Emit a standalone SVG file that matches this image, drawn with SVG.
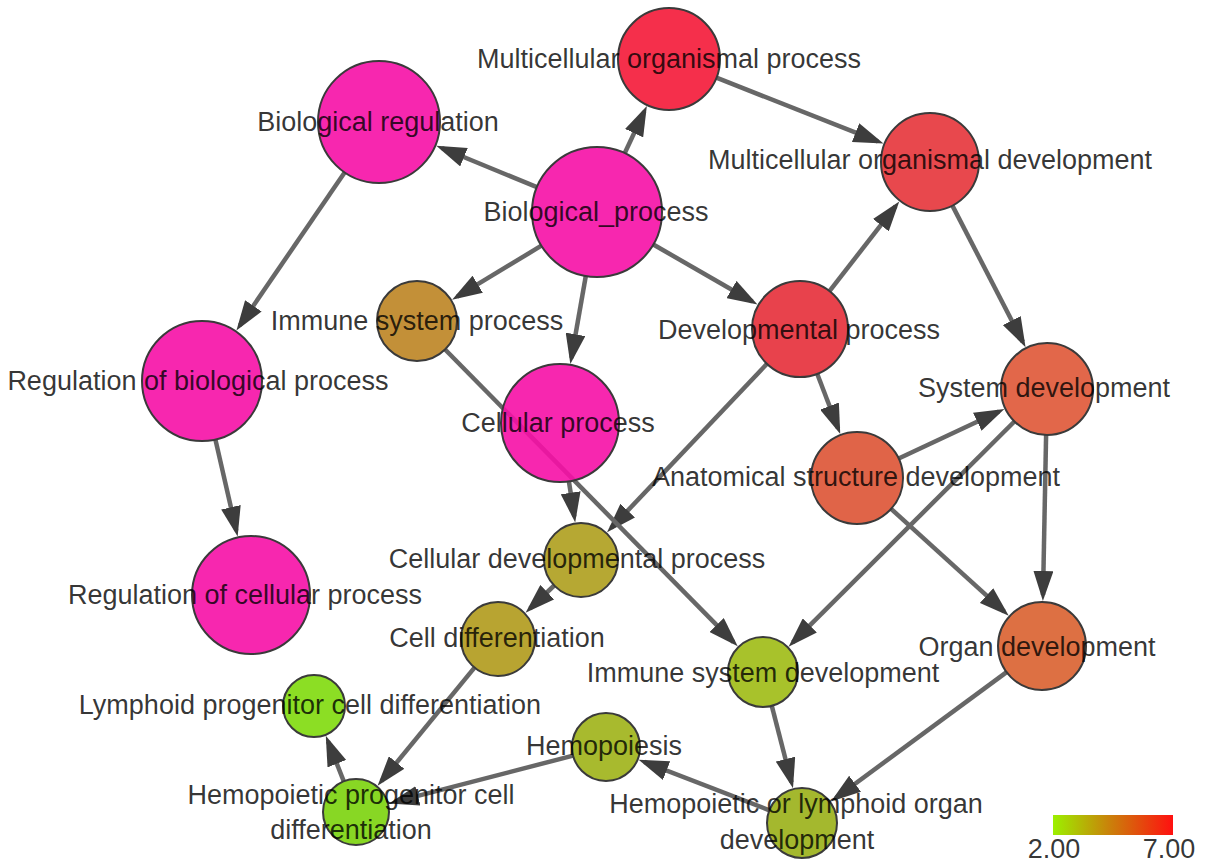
<svg xmlns="http://www.w3.org/2000/svg" width="1205" height="868" viewBox="0 0 1205 868">
<style>
.e{stroke:#676767;stroke-width:4.5;fill:none;marker-end:url(#arr)}
.n{stroke:#3a3a3a;stroke-width:2;fill-opacity:0.9}
.t{font-family:"Liberation Sans",Arial,sans-serif;font-size:27px;fill:#000;fill-opacity:0.8;text-anchor:middle}
.pk{fill:#f610a6}
</style>
<defs>
<marker id="arr" markerUnits="userSpaceOnUse" markerWidth="30" markerHeight="20" viewBox="0 0 30 20" refX="24" refY="10" orient="auto">
<path d="M0,0 L30,10 L0,20 z" fill="#3d3d3d"/>
</marker>
<linearGradient id="lg" x1="0" y1="0" x2="1" y2="0">
<stop offset="0" stop-color="#9cf000"/>
<stop offset="0.45" stop-color="#c8860a"/>
<stop offset="1" stop-color="#ff1010"/>
</linearGradient>
</defs>
<rect width="1205" height="868" fill="#fff"/>
<g id="edges">
<line class="e" x1="624.7" y1="153.2" x2="644.3" y2="111.4"/>
<line class="e" x1="536.9" y1="187.2" x2="441.8" y2="148.0"/>
<line class="e" x1="541.4" y1="245.7" x2="457.2" y2="296.7"/>
<line class="e" x1="585.8" y1="276.0" x2="571.4" y2="358.0"/>
<line class="e" x1="653.3" y1="244.5" x2="752.3" y2="301.5"/>
<line class="e" x1="716.4" y1="77.7" x2="877.9" y2="141.4"/>
<line class="e" x1="829.5" y1="291.1" x2="895.6" y2="206.2"/>
<line class="e" x1="952.4" y1="205.6" x2="1022.8" y2="341.9"/>
<line class="e" x1="344.6" y1="172.4" x2="239.8" y2="325.6"/>
<line class="e" x1="215.4" y1="439.5" x2="236.3" y2="530.7"/>
<line class="e" x1="817.2" y1="373.8" x2="838.1" y2="428.5"/>
<line class="e" x1="767.0" y1="363.8" x2="611.2" y2="528.0"/>
<line class="e" x1="898.7" y1="458.5" x2="999.0" y2="411.5"/>
<line class="e" x1="891.1" y1="508.9" x2="1004.3" y2="611.7"/>
<line class="e" x1="1046.1" y1="435.0" x2="1043.0" y2="595.0"/>
<line class="e" x1="1014.4" y1="421.5" x2="792.8" y2="642.4"/>
<line class="e" x1="445.1" y1="349.5" x2="733.5" y2="642.1"/>
<line class="e" x1="568.9" y1="481.3" x2="574.3" y2="516.5"/>
<line class="e" x1="554.2" y1="585.5" x2="529.9" y2="608.7"/>
<line class="e" x1="474.5" y1="667.6" x2="381.4" y2="781.1"/>
<line class="e" x1="771.8" y1="705.9" x2="791.5" y2="782.4"/>
<line class="e" x1="1006.6" y1="672.1" x2="835.8" y2="798.0"/>
<line class="e" x1="769.4" y1="810.3" x2="644.2" y2="761.9"/>
<line class="e" x1="573.1" y1="755.6" x2="394.7" y2="801.9"/>
<line class="e" x1="343.8" y1="781.3" x2="328.0" y2="741.4"/>
</g>
<g id="n-bp"><circle class="n pk" cx="597" cy="212" r="65"/><text class="t" x="596" y="221">Biological_process</text></g>
<g id="n-mop"><circle class="n" cx="669" cy="59" r="51" fill="#f41837"/><text class="t" x="669" y="68">Multicellular organismal process</text></g>
<g id="n-br"><circle class="n pk" cx="379" cy="122" r="61"/><text class="t" x="378" y="131">Biological regulation</text></g>
<g id="n-mod"><circle class="n" cx="930" cy="162" r="49" fill="#e5343a"/><text class="t" x="930" y="169">Multicellular organismal development</text></g>
<g id="n-isp"><circle class="n" cx="417" cy="321" r="40" fill="#bd8422"/><text class="t" x="417" y="330">Immune system process</text></g>
<g id="n-dp"><circle class="n" cx="800" cy="329" r="48" fill="#e52d38"/><text class="t" x="799" y="339">Developmental process</text></g>
<g id="n-rbp"><circle class="n pk" cx="202" cy="381" r="60"/><text class="t" x="198" y="390">Regulation of biological process</text></g>
<g id="n-sd"><circle class="n" cx="1047" cy="389" r="46" fill="#df5736"/><text class="t" x="1044" y="397">System development</text></g>
<g id="n-cp"><circle class="n pk" cx="560" cy="423" r="59"/><text class="t" x="558" y="432">Cellular process</text></g>
<g id="n-asd"><circle class="n" cx="857" cy="478" r="46" fill="#dd5334"/><text class="t" x="856" y="486">Anatomical structure development</text></g>
<g id="n-rcp"><circle class="n pk" cx="251" cy="595" r="59"/><text class="t" x="245" y="604">Regulation of cellular process</text></g>
<g id="n-cdp"><circle class="n" cx="581" cy="560" r="37" fill="#ae9e1d"/><text class="t" x="577" y="568">Cellular developmental process</text></g>
<g id="n-od"><circle class="n" cx="1042" cy="646" r="44" fill="#d9602f"/><text class="t" x="1037" y="656">Organ development</text></g>
<g id="n-cd"><circle class="n" cx="498" cy="639" r="37" fill="#b09a1b"/><text class="t" x="497" y="647">Cell differentiation</text></g>
<g id="n-isd"><circle class="n" cx="763" cy="672" r="35" fill="#9ebb14"/><text class="t" x="763" y="682">Immune system development</text></g>
<g id="n-lpcd"><circle class="n" cx="314" cy="706" r="31" fill="#7fda0c"/><text class="t" x="310" y="714">Lymphoid progenitor cell differentiation</text></g>
<g id="n-hem"><circle class="n" cx="606" cy="747" r="34" fill="#9eb217"/><text class="t" x="604" y="755">Hemopoiesis</text></g>
<g id="n-hpcd"><circle class="n" cx="356" cy="812" r="33" fill="#7bd30c"/><text class="t" x="351" y="804">Hemopoietic progenitor cell</text><text class="t" x="351" y="839">differentiation</text></g>
<g id="n-hlod"><circle class="n" cx="802" cy="823" r="35" fill="#9ab017"/><text class="t" x="796" y="813">Hemopoietic or lymphoid organ</text><text class="t" x="797" y="849">development</text></g>
<g id="legend">
<rect x="1053" y="815" width="120" height="20" fill="url(#lg)"/>
<text class="t" x="1054" y="858">2.00</text>
<text class="t" x="1169" y="858">7.00</text>
</g>
</svg>
